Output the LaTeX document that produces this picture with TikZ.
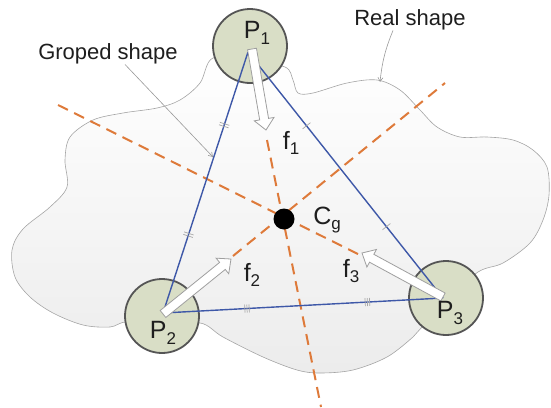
\documentclass[tikz,border=0pt]{standalone}
\usepackage{fontspec}
\setmainfont{Liberation Sans}
\usetikzlibrary{calc,arrows.meta,decorations.markings}
\definecolor{medc}{RGB}{222,122,58}
\definecolor{trib}{RGB}{62,88,168}
\definecolor{circf}{RGB}{217,222,198}
\definecolor{circd}{RGB}{85,85,85}
\definecolor{cloudd}{RGB}{165,165,165}
\definecolor{txt}{RGB}{30,30,30}
\newcommand{\mysub}[1]{\raisebox{-0.22em}{\fontsize{17}{17}\selectfont #1}}
\tikzset{
 cloudshape/.style={draw=cloudd, line width=0.6pt, top color=white, bottom color=gray!15},
 joint/.style={circle, draw=circd, fill=circf, line width=1.8pt, minimum size=74pt, inner sep=0pt},
 median/.style={draw=medc, line width=2pt, dash pattern=on 11pt off 7pt},
 side/.style={draw=trib, line width=1.4pt},
 barrow/.style={draw=gray!75, fill=white, line width=0.8pt, line join=miter},
 big/.style={text=txt, font=\fontsize{25}{25}\selectfont, inner sep=0pt},
 small/.style={text=txt, font=\fontsize{22}{22}\selectfont, inner sep=0pt},
 pointer/.style={draw=gray!80, line width=0.6pt, -{Straight Barb[length=4pt,width=5pt]}},
 tickc/.style={draw=gray!70, line width=0.7pt},
 onetick/.style={postaction={decorate, decoration={markings,
   mark=at position #1 with {\draw[tickc] (0,-5pt)--(0,5pt);}}}},
 twotick/.style={postaction={decorate, decoration={markings,
   mark=at position #1 with {\draw[tickc] (-1.3pt,-5pt)--(-1.3pt,5pt) (1.3pt,-5pt)--(1.3pt,5pt);}}}},
 threetick/.style={postaction={decorate, decoration={markings,
   mark=at position #1 with {\draw[tickc] (-2.2pt,-4pt)--(-2.2pt,4pt) (0pt,-4pt)--(0pt,4pt) (2.2pt,-4pt)--(2.2pt,4pt);}}}},
}
\newcommand{\blockarrow}[2]{%
 \draw[barrow] let \p1=($(#2)-(#1)$), \n1={atan2(\y1,\x1)}, \n2={veclen(\x1,\y1)-11} in
 ($(#1)+({\n1+90}:4.5pt)$) -- ($(#1)+({\n1+90}:4.5pt)+(\n1:\n2)$) --
 ($(#1)+({\n1+90}:10pt)+(\n1:\n2)$) -- (#2) --
 ($(#1)+({\n1-90}:10pt)+(\n1:\n2)$) -- ($(#1)+({\n1-90}:4.5pt)+(\n1:\n2)$) --
 ($(#1)+({\n1-90}:4.5pt)$) -- cycle;}
\begin{document}
\begin{tikzpicture}[x=1pt,y=-1pt]
\useasboundingbox (0,0) rectangle (551,407);
% real shape
\path[cloudshape] plot[smooth cycle, tension=0.55] coordinates {(250,62) (213,58) (200,83) (180,100) (157,108) (123,113) (93,120) (70,137) (65,160) (67,187) (50,207) (23,229) (12,250) (15,277) (30,297) (53,313) (83,325) (110,327) (127,322) (162,328) (200,323) (223,337) (263,357) (297,370) (320,373) (353,370) (387,357) (413,337) (422,327) (446,300) (478,272) (503,263) (530,243) (543,220) (549,195) (547,167) (533,150) (513,140) (487,137) (460,137) (437,127) (420,110) (400,90) (377,80) (347,83) (313,93) (298,93) (293,80) (285,67)};
% labels for shapes
\node[small] (rs) at (410,20) {Real shape};
\node[small] (gs) at (108,54) {Groped shape};
\coordinate (rsend) at (380,82);
\coordinate (gsend) at (213,157);
\draw[pointer] ([xshift=-17pt]rs.south) to[bend right=8] (rsend);
\draw[pointer] ([xshift=17pt]gs.south) -- (gsend);
% circles
\node[joint] (c1) at (250,46) {};
\node[joint] (c2) at (162,316) {};
\node[joint] (c3) at (446,298) {};
% vertices
\coordinate (v1) at (248,52);
\coordinate (v2) at (163,313);
\coordinate (v3) at (443,298);
\coordinate (G) at (284,219);
% medians
\coordinate (m1a) at (267,140); \coordinate (m1b) at (321,407);
\coordinate (m2a) at (58,105); \coordinate (m2b) at (360,255);
\coordinate (m3a) at (233,256); \coordinate (m3b) at (445,83);
\draw[median] (m1a) -- (m1b);
\draw[median] (m2a) -- (m2b);
\draw[median] (m3a) -- (m3b);
% triangle
\draw[side, twotick=0.28, twotick=0.70] (v1) -- (v2);
\draw[side, onetick=0.30, onetick=0.71] (v1) -- (v3);
\draw[side, threetick=0.30, threetick=0.73] (v2) -- (v3);
% centre
\node[circle, fill=black, minimum size=21pt, inner sep=0pt] (cg) at (G) {};
% force arrows
\coordinate (t1) at (252,49); \coordinate (h1) at (266,130);
\coordinate (t2) at (163,314); \coordinate (h2) at (231,259);
\coordinate (t3) at (443,297); \coordinate (h3) at (362,253);
\blockarrow{t1}{h1}
\blockarrow{t2}{h2}
\blockarrow{t3}{h3}
% text labels
\node[big] (lp1) at (257,33) {P\mysub{1}};
\node[big] (lp2) at (163,333) {P\mysub{2}};
\node[big] (lp3) at (450,313) {P\mysub{3}};
\node[big] (lf1) at (291,143) {f\mysub{1}};
\node[big] (lf2) at (252,275) {f\mysub{2}};
\node[big] (lf3) at (351,271) {f\mysub{3}};
\node[big] (lcg) at (327,220) {C\mysub{g}};
\end{tikzpicture}
\end{document}
